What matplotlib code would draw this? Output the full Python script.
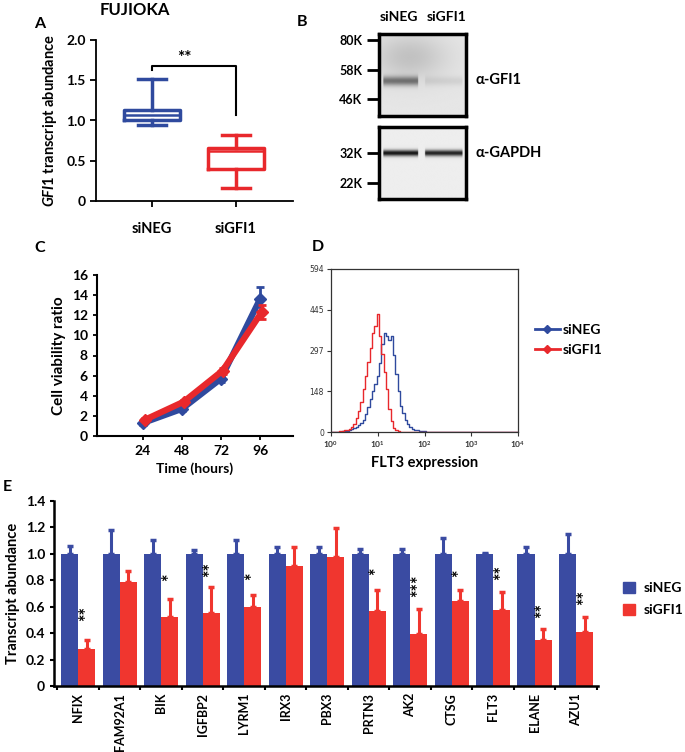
import numpy as np
import matplotlib
matplotlib.use('Agg')
import matplotlib.pyplot as plt
from matplotlib.patches import Patch
from matplotlib.lines import Line2D

plt.rcParams['font.family'] = ['Lato', 'DejaVu Sans']
plt.rcParams['font.weight'] = 'bold'
plt.rcParams['axes.labelweight'] = 'bold'
plt.rcParams['mathtext.fontset'] = 'custom'
plt.rcParams['mathtext.it'] = 'Lato:italic:bold'
plt.rcParams['mathtext.rm'] = 'Lato:bold'
plt.rcParams['mathtext.bf'] = 'Lato:bold'

BLUE = '#2f4a9e'
RED = '#e8282c'
BAR_BLUE = '#3a4ba2'
BAR_RED = '#f0362f'

# ---------------- data ----------------
# Panel A (box plot)
a_groups = ['siNEG', 'siGFI1']
a_whislo = [0.94, 0.16]
a_q1 = [1.01, 0.40]
a_med = [1.07, 0.62]
a_q3 = [1.13, 0.66]
a_whishi = [1.52, 0.82]
a_sig = '**'

# Panel B (western blot)
b_lanes = ['siNEG', 'siGFI1']
b_top_markers = ['80K', '58K', '46K']
b_bottom_markers = ['32K', '22K']
b_top_antibody = 'α-GFI1'
b_bottom_antibody = 'α-GAPDH'
b_top_band = [0.42, 0.07]
b_bottom_band = [0.85, 0.80]

# Panel C (viability)
c_hours = [24, 48, 72, 96]
c_neg = [1.3, 2.7, 5.7, 13.6]
c_neg_err = [0.2, 0.2, 0.3, 1.2]
c_gfi = [1.6, 3.4, 6.5, 12.3]
c_gfi_err = [0.15, 0.2, 0.3, 0.7]

# Panel D (flow histogram), counts at log10 bins 0.00, 0.05, 0.10 ...
d_neg = [0, 0, 0, 0, 1, 2, 3, 5, 7, 10, 13, 18, 24, 32, 45, 65, 90, 120, 150, 175,
         205, 250, 320, 360, 350, 335, 350, 280, 210, 150, 95, 70, 45, 30, 20, 12, 8, 6,
         5, 3, 2, 1, 1, 0, 0, 0, 0, 0, 0, 0, 0, 0, 0, 0, 0, 0, 0, 0, 0, 0, 0, 0, 0, 0,
         0, 0, 0, 0, 0, 0, 0, 0, 0, 0, 0, 0, 0, 0, 0, 0, 0]
d_gfi = [0, 0, 0, 1, 2, 4, 6, 9, 12, 18, 30, 50, 75, 110, 155, 205, 255, 305, 360, 385,
         430, 350, 285, 220, 155, 85, 40, 15, 6, 2, 0, 0, 0, 0, 0, 0, 0, 0, 0, 0, 0, 0,
         0, 0, 0, 0, 0, 0, 0, 0, 0, 0, 0, 0, 0, 0, 0, 0, 0, 0, 0, 0, 0, 0, 0, 0, 0, 0,
         0, 0, 0, 0, 0, 0, 0, 0, 0, 0, 0, 0, 0]
d_yticks = [0, 148, 297, 445, 594]

# Panel E (bars)
e_genes = ['NFIX', 'FAM92A1', 'BIK', 'IGFBP2', 'LYRM1', 'IRX3', 'PBX3',
           'PRTN3', 'AK2', 'CTSG', 'FLT3', 'ELANE', 'AZU1']
e_neg = [1.0, 1.0, 1.0, 1.0, 1.0, 1.0, 1.0, 1.0, 1.0, 1.0, 1.0, 1.0, 1.0]
e_neg_err = [0.06, 0.18, 0.105, 0.03, 0.105, 0.05, 0.05, 0.04, 0.04, 0.12, 0.01, 0.05, 0.15]
e_gfi = [0.28, 0.79, 0.52, 0.556, 0.60, 0.91, 0.975, 0.57, 0.39, 0.64, 0.575, 0.35, 0.41]
e_gfi_err = [0.07, 0.08, 0.14, 0.19, 0.09, 0.14, 0.22, 0.16, 0.19, 0.09, 0.135, 0.08, 0.11]
e_sig = ['**', '', '*', '**', '*', '', '', '*', '***', '*', '**', '**', '**']
e_sig_y = [0.55, 0, 0.82, 0.88, 0.83, 0, 0, 0.87, 0.76, 0.85, 0.86, 0.575, 0.67]

# ---------------- layout ----------------
W, H = 685, 752
fig = plt.figure(figsize=(W / 100, H / 100), dpi=100)


def px(l, t, r, b):
    return [l / W, 1 - b / H, (r - l) / W, (b - t) / H]


def ftext(x, y, s, **kw):
    fig.text(x / W, 1 - y / H, s, **kw)


# ---------------- Panel A ----------------
axA = fig.add_axes(px(96, 40, 293, 201))
stats = []
for i, g in enumerate(a_groups):
    stats.append(dict(label=g, whislo=a_whislo[i], q1=a_q1[i], med=a_med[i],
                      q3=a_q3[i], whishi=a_whishi[i], fliers=[]))
cols = [BLUE, RED]
for i, s in enumerate(stats):
    c = cols[i]
    axA.bxp([s], positions=[i + 1], widths=0.67, capwidths=0.33, showfliers=False,
            boxprops=dict(color=c, lw=2.5), whiskerprops=dict(color=c, lw=2.5),
            capprops=dict(color=c, lw=2.5), medianprops=dict(color=c, lw=1.8))
axA.set_xlim(0.333, 2.68)
axA.set_ylim(0, 2.0)
axA.set_yticks([0, 0.5, 1.0, 1.5, 2.0])
axA.set_yticklabels(['0', '0.5', '1.0', '1.5', '2.0'], fontsize=10)
axA.set_xticks([1, 2])
axA.set_xticklabels(a_groups, fontsize=10.5)
axA.tick_params(axis='x', pad=11, length=4, width=1.3)
axA.tick_params(axis='y', length=4, width=1.3)
for sp in ['top', 'right']:
    axA.spines[sp].set_visible(False)
for sp in ['left', 'bottom']:
    axA.spines[sp].set_linewidth(1.3)
axA.set_ylabel(r'$GFI1$ transcript abundance', fontsize=10.5, labelpad=5)
axA.plot([1, 1, 2, 2], [1.63, 1.68, 1.68, 1.07], color='black', lw=1.5)
axA.text(1.39, 1.68, a_sig, ha='center', va='bottom', fontsize=12.5)
ftext(135, 10, 'FUJIOKA', ha='center', va='center', fontsize=12)
ftext(40, 24, 'A', ha='center', va='center', fontsize=11.5)

# ---------------- Panel B ----------------
ftext(302, 22, 'B', ha='center', va='center', fontsize=11.5)


def blot(ax, band_y, band_sigma, intens, bg, smudge=None):
    yy = np.linspace(0, 1, 200)[:, None]
    xx = np.linspace(0, 1, 200)[None, :]
    dark = np.zeros((200, 200)) + (1 - bg)
    lanes = [(0.05, 0.45), (0.53, 0.96)]
    for (x0, x1), it in zip(lanes, intens):
        lane = ((xx > x0) & (xx < x1)).astype(float)
        dark += it * np.exp(-0.5 * ((yy - band_y) / band_sigma) ** 2) * lane
    if smudge is not None:
        sy, sx, s_int = smudge
        dark += s_int * np.exp(-0.5 * ((yy - sy) / 0.2) ** 2) * np.exp(-0.5 * ((xx - sx) / 0.3) ** 2)
    img = np.clip(1 - dark, 0, 1)
    ax.imshow(img, cmap='gray', vmin=0, vmax=1, extent=[0, 1, 0, 1], origin='lower',
              aspect='auto', interpolation='bilinear')
    ax.set_xlim(0, 1)
    ax.set_ylim(0, 1)
    ax.set_xticks([])
    for sp in ax.spines.values():
        sp.set_linewidth(2.5)
    ax.tick_params(axis='y', length=9, width=2, pad=3, labelsize=9)


axB1 = fig.add_axes(px(379, 34, 466, 116))
blot(axB1, 0.427, 0.04, b_top_band, 0.90, smudge=(0.72, 0.35, 0.14))
axB1.set_yticks([0.927, 0.561, 0.207])
axB1.set_yticklabels(b_top_markers)
axB2 = fig.add_axes(px(379, 127, 466, 199))
blot(axB2, 0.639, 0.03, b_bottom_band, 0.93)
axB2.set_yticks([0.639, 0.222])
axB2.set_yticklabels(b_bottom_markers)
ftext(399, 17, b_lanes[0], ha='center', va='center', fontsize=10)
ftext(447, 17, b_lanes[1], ha='center', va='center', fontsize=10)
ftext(476, 80, b_top_antibody, ha='left', va='center', fontsize=10.5)
ftext(476, 153, b_bottom_antibody, ha='left', va='center', fontsize=10.5)

# ---------------- Panel C ----------------
ftext(40, 248, 'C', ha='center', va='center', fontsize=11.5)
axC = fig.add_axes(px(97, 275, 293, 436))
axC.errorbar(c_hours, c_neg, yerr=c_neg_err, color=BLUE, lw=4.5, marker='D', ms=6,
             capsize=3, capthick=2, elinewidth=2, zorder=2)
axC.errorbar([h + 1 for h in c_hours], c_gfi, yerr=c_gfi_err, color=RED, lw=4.5, marker='D',
             ms=6, capsize=3, capthick=2, elinewidth=2, zorder=3)
axC.set_xlim(-4.3, 116.3)
axC.set_ylim(0, 16)
axC.set_xticks(c_hours)
axC.set_yticks(range(0, 17, 2))
axC.tick_params(labelsize=10, length=3, width=1.3)
for sp in ['top', 'right']:
    axC.spines[sp].set_visible(False)
for sp in ['left', 'bottom']:
    axC.spines[sp].set_linewidth(1.5)
axC.set_xlabel('Time (hours)', fontsize=10, labelpad=4)
axC.set_ylabel('Cell viability ratio', fontsize=11, labelpad=4)

# ---------------- Panel D ----------------
ftext(318, 247, 'D', ha='center', va='center', fontsize=11.5)
axD = fig.add_axes(px(331, 269, 518, 432))
dx = 10 ** (np.arange(len(d_neg)) * 0.05)
axD.plot(dx, d_neg, drawstyle='steps-mid', color=BLUE, lw=1.0)
axD.plot(dx, d_gfi, drawstyle='steps-mid', color=RED, lw=1.0)
axD.set_xscale('log')
axD.set_xlim(1, 1e4)
axD.set_ylim(0, 594)
axD.set_yticks(d_yticks)
axD.set_yticklabels([str(v) for v in d_yticks], fontsize=5.5, fontweight='normal',
                    family=['Liberation Sans Narrow', 'DejaVu Sans'])
axD.set_xticks([1, 10, 100, 1000, 10000])
axD.set_xticklabels([r'$10^0$', r'$10^1$', r'$10^2$', r'$10^3$', r'$10^4$'], fontsize=6)
axD.xaxis.set_minor_locator(matplotlib.ticker.NullLocator())
axD.tick_params(length=3, width=0.8, pad=2, colors='#333333')
for sp in axD.spines.values():
    sp.set_linewidth(0.9)
    sp.set_color('#333333')
axD.set_xlabel('FLT3 expression', fontsize=10.5, labelpad=4)
hD = [Line2D([], [], color=BLUE, lw=2, marker='D', ms=4),
      Line2D([], [], color=RED, lw=2, marker='D', ms=4)]
fig.legend(hD, ['siNEG', 'siGFI1'], loc='center left', frameon=False, fontsize=10,
           bbox_to_anchor=(522 / W, 1 - 340 / H), handlelength=1.8, handletextpad=0.2,
           labelspacing=0.6)

# ---------------- Panel E ----------------
ftext(7, 487, 'E', ha='center', va='center', fontsize=11.5)
axE = fig.add_axes(px(54, 501, 598, 686))
x = np.arange(len(e_genes))
bw = 0.41
zeros = np.zeros(len(e_genes))
axE.bar(x - bw / 2, e_neg, bw, color=BAR_BLUE, zorder=2)
axE.bar(x + bw / 2, e_gfi, bw, color=BAR_RED, zorder=2)
axE.errorbar(x - bw / 2, e_neg, yerr=[zeros, e_neg_err], fmt='none', ecolor=BAR_BLUE,
             elinewidth=2.2, capsize=2.5, capthick=2.5, zorder=1)
axE.errorbar(x + bw / 2, e_gfi, yerr=[zeros, e_gfi_err], fmt='none', ecolor=BAR_RED,
             elinewidth=2.2, capsize=2.5, capthick=2.5, zorder=1)
for i, s in enumerate(e_sig):
    if s:
        axE.text(x[i] + bw / 2, e_sig_y[i], s, rotation=90, ha='center', va='center',
                 fontsize=13)
axE.set_xlim(-0.58, 12.53)
axE.set_ylim(0, 1.4)
axE.set_yticks(np.arange(0, 1.41, 0.2))
axE.set_yticklabels(['0', '0.2', '0.4', '0.6', '0.8', '1.0', '1.2', '1.4'], fontsize=10)
axE.set_xticks(x)
axE.set_xticklabels(e_genes, rotation=90, fontsize=9)
axE.tick_params(axis='x', which='major', length=0, pad=5)
axE.set_xticks(np.arange(-0.5, 12.6, 1.0), minor=True)
axE.tick_params(axis='x', which='minor', length=3, width=1.5)
axE.tick_params(axis='y', length=3, width=1.5)
for sp in ['top', 'right']:
    axE.spines[sp].set_visible(False)
for sp in ['left', 'bottom']:
    axE.spines[sp].set_linewidth(1.8)
axE.set_ylabel('Transcript abundance', fontsize=10.5, labelpad=4)
hE = [Patch(color=BAR_BLUE), Patch(color=BAR_RED)]
fig.legend(hE, ['siNEG', 'siGFI1'], loc='center left', frameon=False, fontsize=10,
           bbox_to_anchor=(610 / W, 1 - 599 / H), handlelength=0.9, handleheight=0.9,
           handletextpad=0.6, labelspacing=0.7)

fig.savefig('out.png', dpi=100)
